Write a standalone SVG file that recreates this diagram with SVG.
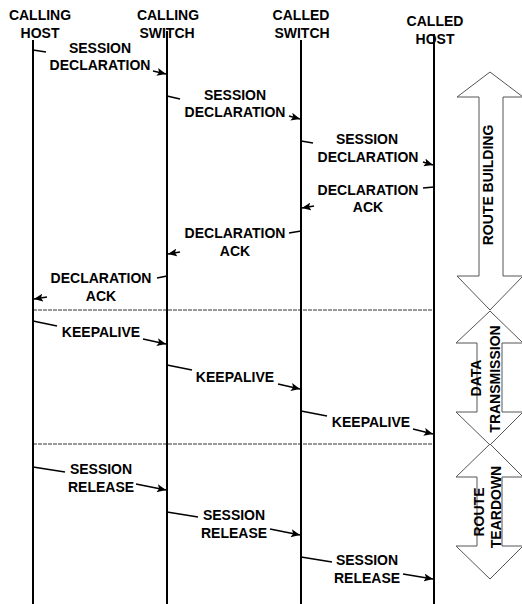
<svg xmlns="http://www.w3.org/2000/svg" width="522" height="604" viewBox="0 0 522 604">
  <style>
    .lbl { font-family: "Liberation Sans", Arial, sans-serif; font-weight: bold; font-size: 14px; fill: #000; text-anchor: middle; }
    .life { stroke: #000; stroke-width: 2; fill: none; }
    .sep { stroke: #333; stroke-width: 1; stroke-dasharray: 4 1; fill: none; }
    .msg { stroke: #000; stroke-width: 1.6; fill: none; }
    .head { stroke: #000; stroke-width: 1.6; fill: none; marker-end: url(#ah); }
    .phase { stroke: #555; stroke-width: 1; fill: #fff; }
    .vlbl { font-family: "Liberation Sans", Arial, sans-serif; font-weight: bold; font-size: 14px; fill: #000; text-anchor: middle; }
  </style>
  <defs>
    <marker id="ah" markerUnits="userSpaceOnUse" markerWidth="10" markerHeight="8" refX="9" refY="4" orient="auto">
      <path d="M0,0 L9,4 L0,8 L2,4 z" fill="#000"/>
    </marker>
  </defs>
  <rect width="522" height="604" fill="#fff"/>

  <!-- phase separators -->
  <g id="separators">
    <line class="sep" x1="33" y1="310" x2="434" y2="310"/>
    <line class="sep" x1="33" y1="444" x2="434" y2="444"/>
  </g>

  <!-- participants -->
  <g id="calling-host">
    <line class="life" x1="33" y1="40" x2="33" y2="604"/>
    <text class="lbl" x="40" y="20">CALLING</text>
    <text class="lbl" x="40" y="38">HOST</text>
  </g>
  <g id="calling-switch">
    <line class="life" x1="167" y1="31" x2="167" y2="604"/>
    <text class="lbl" x="168" y="20">CALLING</text>
    <text class="lbl" x="167" y="38">SWITCH</text>
  </g>
  <g id="called-switch">
    <line class="life" x1="301" y1="40" x2="301" y2="604"/>
    <text class="lbl" x="301" y="20">CALLED</text>
    <text class="lbl" x="302" y="38">SWITCH</text>
  </g>
  <g id="called-host">
    <line class="life" x1="434" y1="34" x2="434" y2="604"/>
    <text class="lbl" x="435" y="26">CALLED</text>
    <text class="lbl" x="435" y="44">HOST</text>
  </g>

  <!-- messages -->
  <g id="connectors">
    <line class="msg" x1="33" y1="50" x2="46" y2="52"/>
    <line class="head" x1="153" y1="71" x2="166" y2="74"/>
    <line class="msg" x1="167" y1="96" x2="180" y2="99"/>
    <line class="head" x1="289" y1="116" x2="300" y2="119"/>
    <line class="msg" x1="301" y1="141" x2="313" y2="143"/>
    <line class="head" x1="423" y1="162" x2="433" y2="165"/>
    <line class="msg" x1="434" y1="187" x2="423" y2="188"/>
    <line class="head" x1="314" y1="206" x2="302" y2="208"/>
    <line class="msg" x1="301" y1="231" x2="289" y2="233"/>
    <line class="head" x1="180" y1="252" x2="168" y2="254"/>
    <line class="msg" x1="167" y1="276" x2="157" y2="278"/>
    <line class="head" x1="47" y1="297" x2="34" y2="299"/>
    <line class="msg" x1="33" y1="321" x2="57" y2="326"/>
    <line class="head" x1="143" y1="339" x2="166" y2="344"/>
    <line class="msg" x1="167" y1="365" x2="192" y2="370"/>
    <line class="head" x1="278" y1="384" x2="300" y2="389"/>
    <line class="msg" x1="301" y1="411" x2="327" y2="416"/>
    <line class="head" x1="413" y1="429" x2="433" y2="434"/>
    <line class="msg" x1="33" y1="467" x2="65" y2="472"/>
    <line class="head" x1="136" y1="484" x2="166" y2="490"/>
    <line class="msg" x1="167" y1="512" x2="198" y2="517"/>
    <line class="head" x1="270" y1="529" x2="300" y2="535"/>
    <line class="msg" x1="301" y1="557" x2="332" y2="562"/>
    <line class="head" x1="403" y1="574" x2="433" y2="579"/>
  </g>

  <!-- message labels -->
  <g id="message-labels">
    <text class="lbl" x="100" y="53">SESSION</text>
    <text class="lbl" x="100" y="70">DECLARATION</text>
    <text class="lbl" x="235" y="100">SESSION</text>
    <text class="lbl" x="235" y="117">DECLARATION</text>
    <text class="lbl" x="367" y="144">SESSION</text>
    <text class="lbl" x="368" y="162">DECLARATION</text>
    <text class="lbl" x="368" y="195">DECLARATION</text>
    <text class="lbl" x="368" y="212">ACK</text>
    <text class="lbl" x="235" y="238">DECLARATION</text>
    <text class="lbl" x="235" y="256">ACK</text>
    <text class="lbl" x="101" y="283">DECLARATION</text>
    <text class="lbl" x="101" y="301">ACK</text>
    <text class="lbl" x="101" y="337">KEEPALIVE</text>
    <text class="lbl" x="235" y="382">KEEPALIVE</text>
    <text class="lbl" x="371" y="427">KEEPALIVE</text>
    <text class="lbl" x="101" y="474">SESSION</text>
    <text class="lbl" x="101" y="492">RELEASE</text>
    <text class="lbl" x="234" y="520">SESSION</text>
    <text class="lbl" x="234" y="538">RELEASE</text>
    <text class="lbl" x="367" y="565">SESSION</text>
    <text class="lbl" x="367" y="583">RELEASE</text>
  </g>

  <!-- phase arrows -->
  <g id="route-building">
    <path class="phase" d="M490,72 L523,97 L503,97 L503,276 L523,276 L490,310 L457,276 L479,276 L479,97 L457,97 Z"/>
    <text class="vlbl" transform="translate(493,185) rotate(-90)">ROUTE BUILDING</text>
  </g>
  <g id="data-transmission">
    <path class="phase" d="M490,311 L523,343 L502,343 L502,412 L523,412 L490,445 L456,412 L477,412 L477,343 L456,343 Z"/>
    <text class="vlbl" transform="translate(481,378) rotate(-90)">DATA</text>
    <text class="vlbl" transform="translate(500,379) rotate(-90)">TRANSMISSION</text>
  </g>
  <g id="route-teardown">
    <path class="phase" d="M490,444 L523,477 L502,477 L502,546 L523,546 L490,579 L456,546 L477,546 L477,477 L456,477 Z"/>
    <text class="vlbl" transform="translate(484,512) rotate(-90)">ROUTE</text>
    <text class="vlbl" transform="translate(501,507) rotate(-90)">TEARDOWN</text>
  </g>
</svg>
